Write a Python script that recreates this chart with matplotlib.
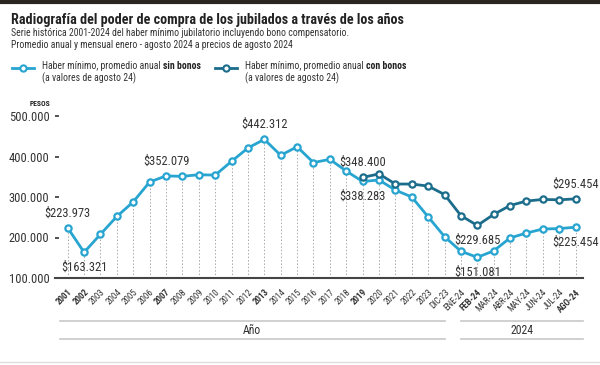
import matplotlib.pyplot as plt
from matplotlib.lines import Line2D
from matplotlib.transforms import blended_transform_factory

plt.rcParams['font.family'] = ['Roboto Condensed', 'Liberation Sans', 'DejaVu Sans']

labels = ['2001', '2002', '2003', '2004', '2005', '2006', '2007', '2008', '2009', '2010',
          '2011', '2012', '2013', '2014', '2015', '2016', '2017', '2018', '2019', '2020',
          '2021', '2022', '2023', 'DIC-23', 'ENE-24', 'FEB-24', 'MAR-24', 'ABR-24',
          'MAY-24', 'JUN-24', 'JUL-24', 'AGO-24']
bold_labels = ['2001', '2002', '2007', '2013', '2019', 'FEB-24', 'AGO-24']

sin_bonos = [223973, 163321, 208000, 252000, 288000, 337000, 352079, 351000, 355000, 354000,
             388000, 421000, 442312, 403000, 424000, 385000, 393000, 364000, 338283, 342000,
             317000, 300000, 251000, 202000, 166000, 151081, 167000, 199000, 211000, 221000,
             222000, 225454]
con_bonos = [348400, 357000, 332000, 332000, 327000, 306000, 254000, 229685, 257000, 279000,
             290000, 294000, 293000, 295454]
con_start = 18

annotations = [
    (0, 223973, '$223.973', 'above'),
    (1, 163321, '$163.321', 'below'),
    (6, 352079, '$352.079', 'above'),
    (12, 442312, '$442.312', 'above'),
    (18, 348400, '$348.400', 'above'),
    (18, 338283, '$338.283', 'below'),
    (25, 229685, '$229.685', 'below'),
    (25, 151081, '$151.081', 'below'),
    (31, 295454, '$295.454', 'above'),
    (31, 225454, '$225.454', 'below'),
]

c_sin = '#27a5d0'
c_con = '#1b6d8b'
grey = '#333333'

W, H = 600, 365
fig = plt.figure(figsize=(6, 3.65), dpi=100)
fig.patch.set_facecolor('white')

ax = fig.add_axes([55 / W, 1 - 278 / H, (583 - 55) / W, (278 - 116) / H])
x = list(range(len(labels)))
xc = x[con_start:]

ax.vlines(x, 100000, sin_bonos, colors='#aaaaaa', linestyles=(0, (1.5, 2)), linewidth=0.7, zorder=1)
ax.plot(x, sin_bonos, color=c_sin, lw=2, marker='o', ms=4.5, mfc='white', mec=c_sin, mew=1.6,
        zorder=3, clip_on=False)
ax.plot(xc, con_bonos, color=c_con, lw=2, marker='o', ms=4.5, mfc='white', mec=c_con, mew=1.6,
        zorder=4, clip_on=False)

for i, v, txt, pos in annotations:
    off = 6 if pos == 'above' else -6
    ax.annotate(txt, (i, v), xytext=(0, off), textcoords='offset points', ha='center',
                va='bottom' if pos == 'above' else 'top', fontsize=9, color=grey)

ax.set_xlim(-0.775, 31.45)
ax.set_ylim(100000, 500000)
ax.set_yticks([100000, 200000, 300000, 400000, 500000])
ax.set_yticklabels(['100.000', '200.000', '300.000', '400.000', '500.000'], fontsize=9, color=grey)
ax.tick_params(axis='y', direction='in', length=3, width=1.2, color=grey, pad=4)
ax.set_xticks(x)
ax.set_xticklabels(labels, rotation=45, ha='right', rotation_mode='anchor', fontsize=6.5, color=grey)
for t in ax.get_xticklabels():
    if t.get_text() in bold_labels:
        t.set_fontweight('bold')
ax.tick_params(axis='x', length=0, pad=7)
for s in ['top', 'right', 'left']:
    ax.spines[s].set_visible(False)
ax.spines['bottom'].set_color('#444444')
ax.spines['bottom'].set_linewidth(1.5)
ax.set_facecolor('none')

# group brackets below the axis
tr = blended_transform_factory(ax.transData, fig.transFigure)
for x0, x1, name in [(-0.47, 23.0, 'Año'), (24.0, 31.45, '2024')]:
    for yy in [1 - 321 / H, 1 - 339 / H]:
        fig.add_artist(Line2D([x0, x1], [yy, yy], transform=tr, color='#c8c8c8', lw=1.2))
    fig.text((x0 + x1) / 2, 1 - 330 / H, name, transform=tr, ha='center', va='center',
             fontsize=8.5, color=grey)
fig.add_artist(Line2D([0, 1], [1 - 362 / H] * 2, transform=fig.transFigure, color='#dddddd', lw=1))

# top border
fig.add_artist(Line2D([0, 1], [1 - 1.5 / H] * 2, transform=fig.transFigure, color='#2b2522', lw=3))

# titles
fig.text(11 / W, 1 - 20 / H, 'Radiografía del poder de compra de los jubilados a través de los años',
         fontsize=10.2, fontweight='bold', color='#222222', va='center')
fig.text(11 / W, 1 - 33 / H, 'Serie histórica 2001-2024 del haber mínimo jubilatorio incluyendo bono compensatorio.',
         fontsize=7, color=grey, va='center')
fig.text(11 / W, 1 - 45 / H, 'Promedio anual y mensual enero - agosto 2024 a precios de agosto 2024',
         fontsize=7, color=grey, va='center')

# legend
for lx, col, bold in [(12, c_sin, 'sin bonos'), (215, c_con, 'con bonos')]:
    fig.add_artist(Line2D([lx / W, (lx + 22) / W], [1 - 68 / H] * 2, transform=fig.transFigure,
                          color=col, lw=2))
    fig.add_artist(Line2D([(lx + 11) / W], [1 - 68 / H], transform=fig.transFigure,
                          color=col, lw=0, marker='o', ms=4.5, mfc='white', mec=col, mew=1.5))
    t = fig.text((lx + 30) / W, 1 - 66 / H, 'Haber mínimo, promedio anual ', fontsize=7,
                 color=grey, va='center')
    fig.canvas.draw()
    bb = t.get_window_extent()
    fig.text(bb.x1 / W, 1 - 66 / H, bold, fontsize=7, color='#222222', fontweight='bold', va='center')
    fig.text((lx + 30) / W, 1 - 78 / H, '(a valores de agosto 24)', fontsize=7, color=grey, va='center')

fig.text(50 / W, 1 - 103 / H, 'PESOS', fontsize=5.5, fontweight='bold', color='#222222',
         ha='right', va='center')

fig.savefig('out.png', dpi=100)
